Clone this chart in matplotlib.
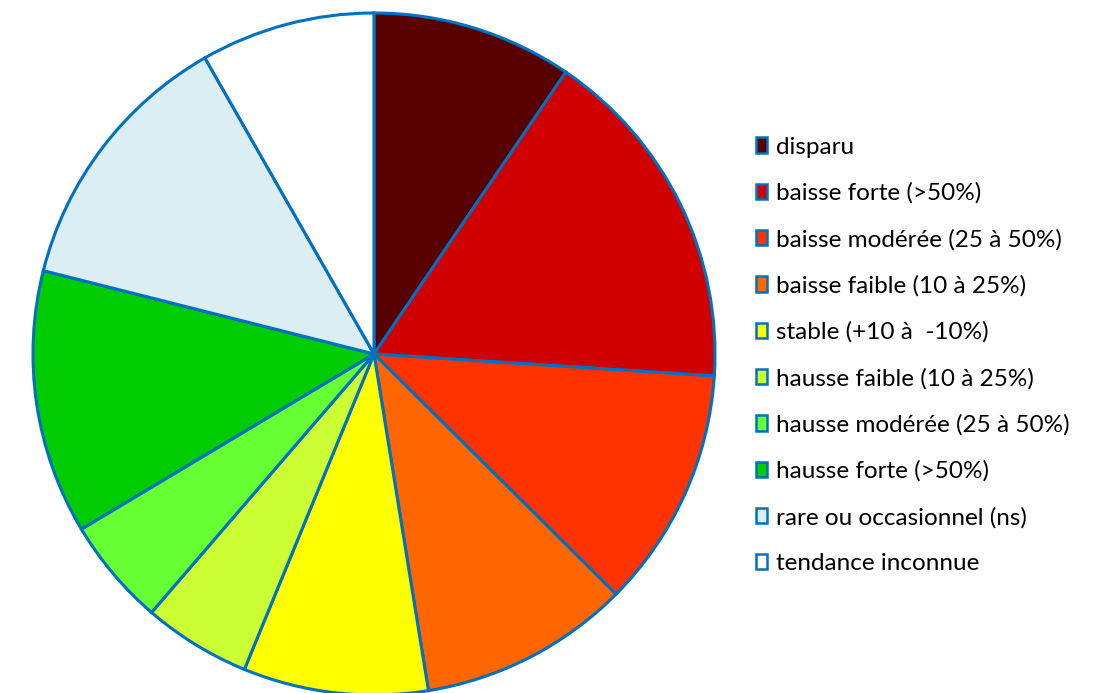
import matplotlib.pyplot as plt
from matplotlib.patches import Patch

# share of species per trend class (%)
categories = [
    "disparu",
    "baisse forte (>50%)",
    "baisse modérée (25 à 50%)",
    "baisse faible (10 à 25%)",
    "stable (+10 à  -10%)",
    "hausse faible (10 à 25%)",
    "hausse modérée (25 à 50%)",
    "hausse forte (>50%)",
    "rare ou occasionnel (ns)",
    "tendance inconnue",
]
shares = [9.5, 16.5, 11.4, 10.0, 8.75, 5.1, 5.1, 12.5, 12.8, 8.25]
colors = ["#580000", "#D00000", "#FF3300", "#FF6600", "#FFFF00",
          "#CCFF33", "#66FF33", "#00CC00", "#DAEEF3", "#FFFFFF"]
edge = "#0070C0"

plt.rcParams["font.family"] = ["Lato", "DejaVu Sans"]

fig = plt.figure(figsize=(10.97, 6.93), dpi=100)
ax = fig.add_axes([33 / 1097, -2 / 693, 682 / 1097, 682 / 693])
ax.pie(shares, colors=colors, startangle=90, counterclock=False, radius=1,
       wedgeprops=dict(edgecolor=edge, linewidth=2.2))
ax.set_xlim(-1.0, 1.0)
ax.set_ylim(-1.0, 1.0)
ax.set_aspect("equal")
ax.axis("off")

handles = [Patch(facecolor=c, edgecolor=edge, linewidth=1.8) for c in colors]
fig.legend(handles, categories, loc="upper left",
           bbox_to_anchor=(746 / 1097, 1 - 127 / 693), frameon=False,
           fontsize=17.5, handlelength=0.47, handleheight=0.6,
           handletextpad=0.38, labelspacing=1.02, borderaxespad=0)

fig.savefig("out.png", dpi=100)
